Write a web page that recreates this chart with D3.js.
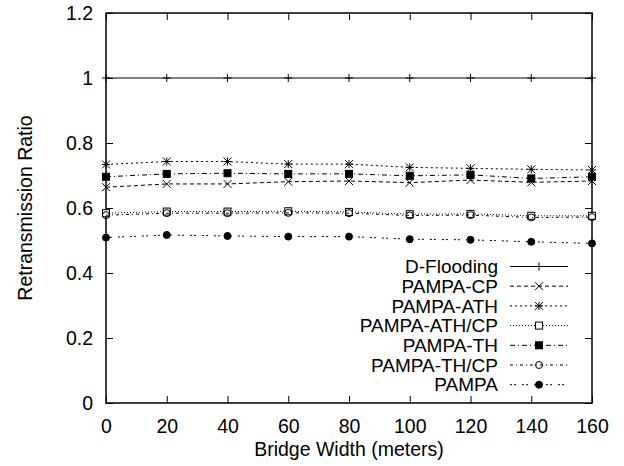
<!DOCTYPE html>
<html>
<head>
<meta charset="utf-8">
<script src="https://cdn.jsdelivr.net/npm/d3@7"></script>
<style>
  body { margin: 0; background: #fff; }
  text { font-family: "Liberation Sans", Arial, sans-serif; font-size: 19.5px; fill: #000; }
  .legend text { font-size: 19px; }
</style>
</head>
<body>
<div id="chart"></div>
<script>
// data
var bridgeWidth = [0, 20, 40, 60, 80, 100, 120, 140, 160]
var dFlooding  = [1, 1, 1, 1, 1, 1, 1, 1, 1]
var pampaCP    = [0.664, 0.674, 0.674, 0.681, 0.683, 0.678, 0.686, 0.679, 0.683]
var pampaATH   = [0.734, 0.743, 0.743, 0.735, 0.735, 0.725, 0.722, 0.719, 0.717]
var pampaATHCP = [0.584, 0.589, 0.589, 0.590, 0.588, 0.581, 0.582, 0.576, 0.576]
var pampaTH    = [0.696, 0.705, 0.707, 0.705, 0.705, 0.699, 0.702, 0.691, 0.696]
var pampaTHCP  = [0.578, 0.584, 0.584, 0.585, 0.584, 0.577, 0.578, 0.571, 0.572]
var pampa      = [0.509, 0.517, 0.514, 0.512, 0.512, 0.504, 0.502, 0.496, 0.491]

var seriesNames = ["D-Flooding", "PAMPA-CP", "PAMPA-ATH", "PAMPA-ATH/CP", "PAMPA-TH", "PAMPA-TH/CP", "PAMPA"]
var seriesValues = [dFlooding, pampaCP, pampaATH, pampaATHCP, pampaTH, pampaTHCP, pampa]

var xTickValues = [0, 20, 40, 60, 80, 100, 120, 140, 160]
var xTickLabels = ["0", "20", "40", "60", "80", "100", "120", "140", "160"]
var yTickValues = [0, 0.2, 0.4, 0.6, 0.8, 1, 1.2]
var yTickLabels = ["0", "0.2", "0.4", "0.6", "0.8", "1", "1.2"]

// line dash and point type per series (gnuplot style)
var dashes = [null, "4,3", "2,3", "1,2", "5,3,1,3", "3,3,1,3", "2,2,2,6"]
var points = ["plus", "cross", "star", "boxOpen", "boxFilled", "circleOpen", "circleFilled"]

var width = 624
var height = 466
var margin = { top: 13, right: 32, bottom: 63, left: 106 }
var w = width - margin.left - margin.right
var h = height - margin.top - margin.bottom

var svg = d3.select("#chart")
  .append("svg")
    .attr("width", width)
    .attr("height", height)

var g = svg.append("g")
    .attr("transform", "translate(" + margin.left + "," + margin.top + ")")

var x = d3.scaleLinear().domain([0, 160]).range([0, w])
var y = d3.scaleLinear().domain([0, 1.2]).range([h, 0])

// axes with inward ticks, mirrored on top and right
var tick = 7
g.append("g")
    .attr("transform", "translate(0," + h + ")")
    .call(d3.axisBottom(x).tickValues(xTickValues).tickSize(-tick).tickPadding(tick + 9)
      .tickFormat(function(d, i) { return xTickLabels[i] }))
    .call(function(a) { a.select(".domain").remove() })
g.append("g")
    .call(d3.axisTop(x).tickValues(xTickValues).tickSize(-tick).tickFormat(""))
    .call(function(a) { a.select(".domain").remove() })
g.append("g")
    .call(d3.axisLeft(y).tickValues(yTickValues).tickSize(-tick).tickPadding(tick + 6)
      .tickFormat(function(d, i) { return yTickLabels[i] }))
    .call(function(a) { a.select(".domain").remove() })
g.append("g")
    .attr("transform", "translate(" + w + ",0)")
    .call(d3.axisRight(y).tickValues(yTickValues).tickSize(-tick).tickFormat(""))
    .call(function(a) { a.select(".domain").remove() })

g.selectAll(".tick line").attr("stroke", "#000").attr("stroke-width", 1)
g.selectAll(".tick text").style("font-size", "19.5px").attr("fill", "#000")
  .style("font-family", "'Liberation Sans', Arial, sans-serif")

g.append("rect")
    .attr("width", w)
    .attr("height", h)
    .attr("fill", "none")
    .attr("stroke", "#000")
    .attr("stroke-width", 1.5)

// axis titles
svg.append("text")
    .attr("x", margin.left + w / 2)
    .attr("y", 456)
    .attr("text-anchor", "middle")
    .text("Bridge Width (meters)")
svg.append("text")
    .attr("transform", "translate(32," + (margin.top + h / 2) + ") rotate(-90)")
    .attr("text-anchor", "middle")
    .text("Retransmission Ratio")

function drawPoint(sel, type, px, py) {
  var s = 4
  var p = sel.append("g").attr("transform", "translate(" + px + "," + py + ")")
  var line = function(x1, y1, x2, y2) {
    p.append("line").attr("x1", x1).attr("y1", y1).attr("x2", x2).attr("y2", y2)
      .attr("stroke", "#000").attr("stroke-width", 1)
  }
  if (type == "plus" || type == "star") { line(-s, 0, s, 0); line(0, -s, 0, s) }
  if (type == "cross" || type == "star") { line(-s, -s, s, s); line(-s, s, s, -s) }
  if (type == "boxOpen" || type == "boxFilled") {
    p.append("rect").attr("x", -3.5).attr("y", -3.5).attr("width", 7).attr("height", 7)
      .attr("fill", type == "boxFilled" ? "#000" : "#fff").attr("stroke", "#000").attr("stroke-width", 1)
  }
  if (type == "circleOpen" || type == "circleFilled") {
    p.append("circle").attr("r", 3.5)
      .attr("fill", type == "circleFilled" ? "#000" : "none").attr("stroke", "#000").attr("stroke-width", 1)
  }
}

var lineGen = d3.line()
    .x(function(d) { return x(d[0]) })
    .y(function(d) { return y(d[1]) })

seriesValues.forEach(function(vals, i) {
  var pts = bridgeWidth.map(function(b, j) { return [b, vals[j]] })
  g.append("path")
      .datum(pts)
      .attr("d", lineGen)
      .attr("fill", "none")
      .attr("stroke", "#000")
      .attr("stroke-width", 1)
      .attr("stroke-dasharray", dashes[i])
  pts.forEach(function(d) { drawPoint(g, points[i], x(d[0]), y(d[1])) })
})

// legend, bottom right inside the plot
var legend = svg.append("g").attr("class", "legend")
seriesNames.forEach(function(name, i) {
  var ly = 266.5 + i * 19.7
  legend.append("text")
      .attr("x", 498)
      .attr("y", ly)
      .attr("dy", "0.35em")
      .attr("text-anchor", "end")
      .text(name)
  legend.append("line")
      .attr("x1", 510).attr("x2", 568)
      .attr("y1", ly).attr("y2", ly)
      .attr("stroke", "#000")
      .attr("stroke-width", 1)
      .attr("stroke-dasharray", dashes[i])
  drawPoint(legend, points[i], 539, ly)
})
</script>
</body>
</html>
